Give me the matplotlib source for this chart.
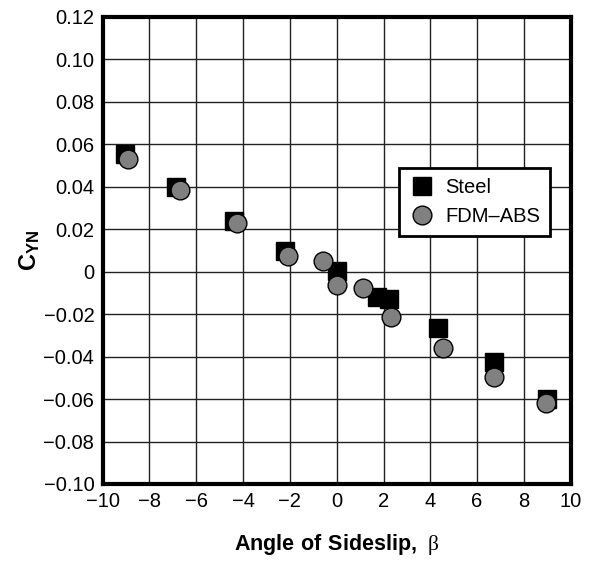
import matplotlib
matplotlib.use("Agg")
import matplotlib.pyplot as plt

plt.rcParams['font.family'] = ['Liberation Sans Narrow', 'Liberation Sans', 'DejaVu Sans']
plt.rcParams['mathtext.fontset'] = 'custom'
plt.rcParams['mathtext.rm'] = 'Liberation Serif'
plt.rcParams['mathtext.bf'] = 'Liberation Sans:bold'

# Steel model
steel_beta = [-9.03, -6.86, -4.37, -2.22, 0.0, 1.71, 2.24, 4.32, 6.71, 8.97]
steel_cyn = [0.0552, 0.0398, 0.0236, 0.0097, 0.0005, -0.0122, -0.0130, -0.0266, -0.0426, -0.0601]

# FDM-ABS model
abs_beta = [-8.93, -6.70, -4.27, -2.09, -0.57, 0.03, 1.14, 2.32, 4.53, 6.74, 8.93]
abs_cyn = [0.0529, 0.0384, 0.0228, 0.0074, 0.0050, -0.0063, -0.0078, -0.0212, -0.0361, -0.0497, -0.0617]

xticks = list(range(-10, 11, 2))
yticks = [-0.10, -0.08, -0.06, -0.04, -0.02, 0, 0.02, 0.04, 0.06, 0.08, 0.10, 0.12]
ytick_labels = ['\u22120.10', '\u22120.08', '\u22120.06', '\u22120.04', '\u22120.02', '0',
                '0.02', '0.04', '0.06', '0.08', '0.10', '0.12']
xtick_labels = [str(t).replace('-', '\u2212') for t in xticks]

fig = plt.figure(figsize=(5.95, 5.62), dpi=100)
ax = fig.add_axes([0.1726, 0.1388, 0.7866, 0.8315])

ax.plot(steel_beta, steel_cyn, 's', color='black', markersize=13.5, label='Steel', zorder=3)
ax.plot(abs_beta, abs_cyn, 'o', markerfacecolor='#808080', markeredgecolor='black',
        markeredgewidth=1.0, markersize=13.5, label='FDM\u2013ABS', zorder=4)

ax.set_xlim(-10, 10)
ax.set_ylim(-0.10, 0.12)
ax.set_xticks(xticks)
ax.set_xticklabels(xtick_labels)
ax.set_yticks(yticks)
ax.set_yticklabels(ytick_labels)
ax.tick_params(length=0, labelsize=14.5, pad=6)
ax.grid(True, color='#222222', linewidth=1.0)
ax.set_axisbelow(True)
for s in ax.spines.values():
    s.set_linewidth(3)

ax.set_xlabel(r'$\mathbf{Angle\ of\ Sideslip,}\ \mathrm{\beta}$', fontsize=15.5)
ax.xaxis.set_label_coords(0.5, -0.102)
ax.set_ylabel(r'$\mathbf{C_{YN}}$', fontsize=17)
ax.yaxis.set_label_coords(-0.13, 0.5)

leg = ax.legend(loc='upper left', bbox_to_anchor=(0.633, 0.676), fontsize=14.5,
                fancybox=False, framealpha=1, edgecolor='black', borderpad=0.5,
                handletextpad=0.5, handlelength=1.3, borderaxespad=0)
leg.get_frame().set_linewidth(2)

fig.savefig('out.png', dpi=100)
